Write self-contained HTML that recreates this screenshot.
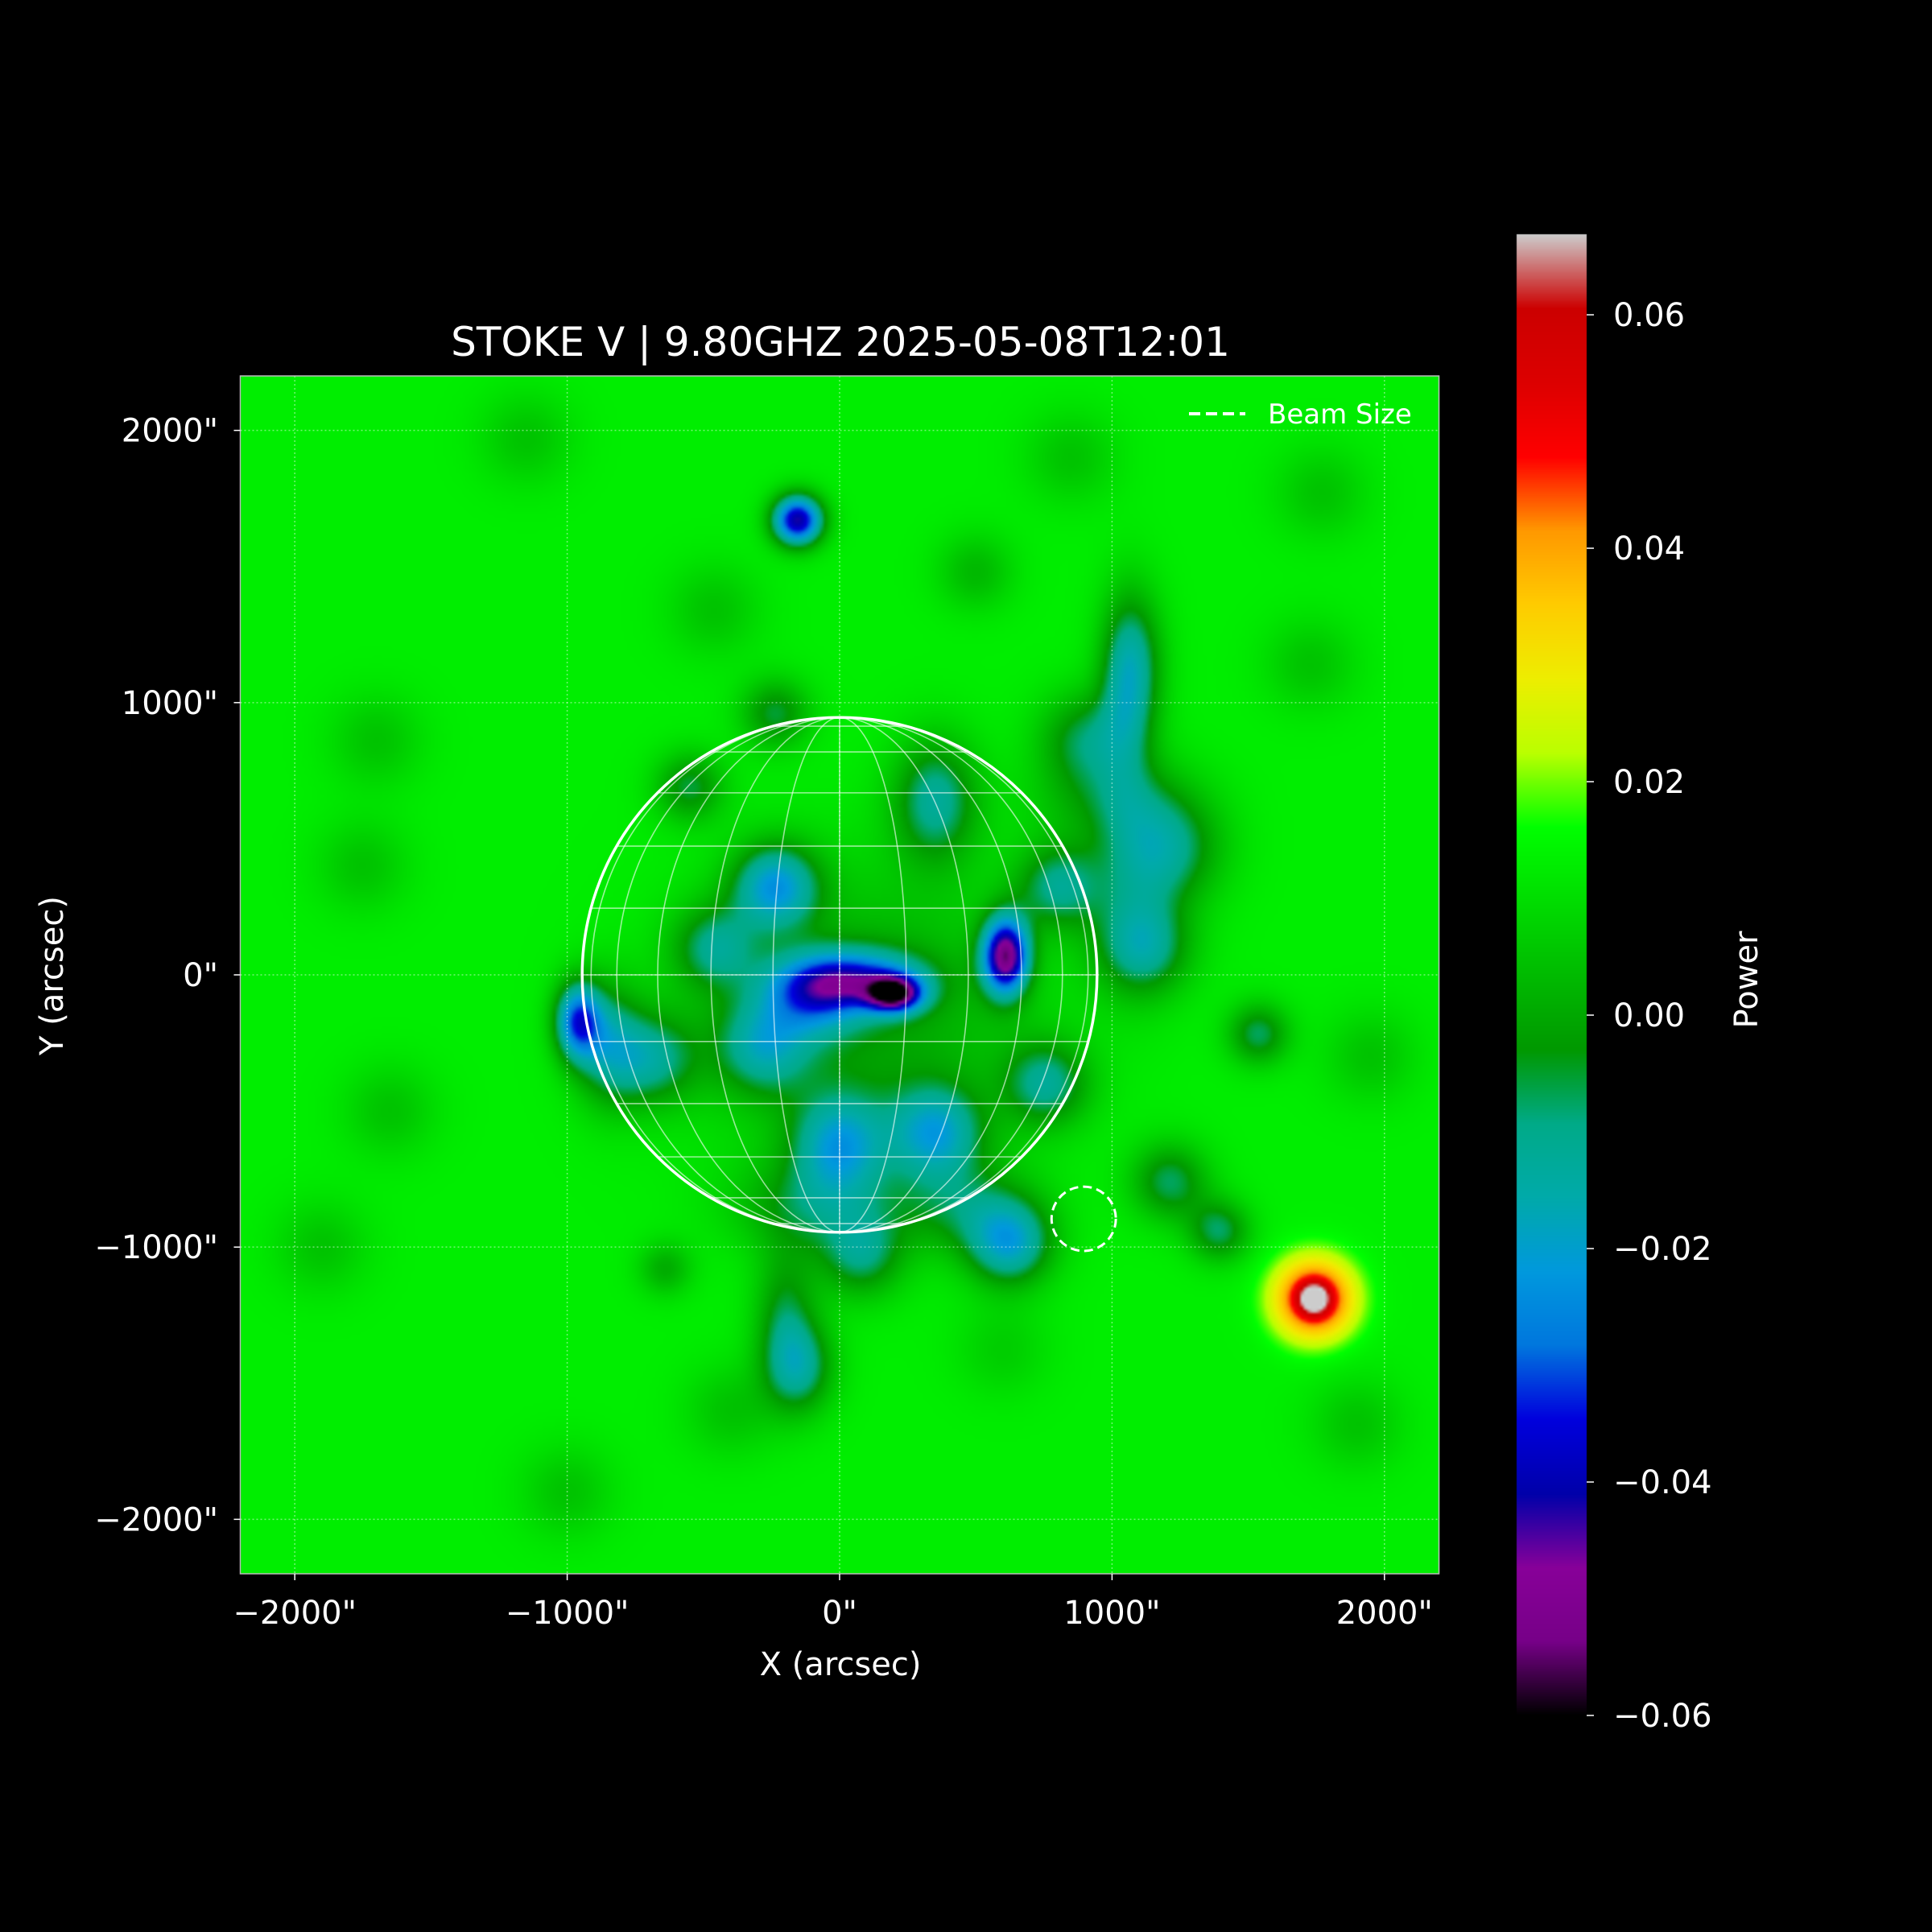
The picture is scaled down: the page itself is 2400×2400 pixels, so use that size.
<!DOCTYPE html>
<html><head><meta charset="utf-8">
<style>
html,body{margin:0;padding:0;background:#000;}
#wrap{position:relative;width:2400px;height:2400px;background:#000;overflow:hidden;font-family:"DejaVu Sans","Liberation Sans",sans-serif;}
canvas,svg{position:absolute;left:0;top:0;}
</style></head>
<body>
<div id="wrap">
<canvas id="heat" width="2400" height="2400"></canvas>
<svg id="ov" width="2400" height="2400"></svg>
</div>
<script>
// ---- data ----
const xTicks=[-2000,-1000,0,1000,2000];
const yTicks=[-2000,-1000,0,1000,2000];
const cbTicks=[0.06,0.04,0.02,0.00,-0.02,-0.04,-0.06];
const baseLevel=0.013;
const blobX=[200,60,-100,610,-960,-154,1742,1742,-235,353,1077,900,1213,1122,1538,0,353,624,-145,1213,1394,-688,-460,-280,-550,-235,760,805,80,-640,-1700,-1750,-1650,-1150,1770,1730,500,-460,-1000,1900,-1900,1950,850,-400,600,100,1000,1080,-850,-200,-100,450,1050];
const blobY=[-70,-20,-80,70,-170,1670,-1190,-1190,326,643,1140,870,460,100,-217,-624,-580,-986,-1440,-760,-940,-308,100,-262,690,960,-400,326,-1030,-1080,860,400,-500,1970,1770,1140,1480,1340,-1900,-1650,-1000,-300,1900,-1600,-1380,-150,650,300,-250,-1250,-850,-850,1000];
const blobAmp=[-0.052,-0.035,-0.025,-0.062,-0.04,-0.055,0.045,0.025,-0.032,-0.024,-0.02,-0.018,-0.02,-0.02,-0.02,-0.028,-0.028,-0.03,-0.022,-0.02,-0.02,-0.022,-0.02,-0.022,-0.018,-0.018,-0.022,-0.022,-0.02,-0.012,-0.008,-0.008,-0.008,-0.008,-0.008,-0.008,-0.01,-0.008,-0.008,-0.008,-0.008,-0.008,-0.008,-0.008,-0.006,-0.014,-0.012,-0.012,-0.02,-0.016,-0.015,-0.015,-0.012];
const blobSx=[70,170,130,60,60,65,100,40,110,110,80,120,140,120,80,120,120,110,90,100,80,120,110,120,90,90,110,110,110,70,120,120,120,120,120,120,100,120,120,120,120,120,120,120,120,420,200,120,90,80,200,180,70];
const blobSy=[45,75,100,100,100,65,100,40,110,160,190,120,140,120,80,130,120,110,120,100,80,120,110,120,90,90,110,110,110,70,120,120,120,120,120,120,100,120,120,120,120,120,120,120,120,380,120,250,160,180,120,120,250];
const sunRadius=945;
const beamX=896, beamY=-896, beamR=118;
const vmin=-0.06, vmax=0.0669;

// ---- layout ----
const L=298.5,W=1489,T=467,H=1488,xmin=-2200,xmax=2200,ymin=-2200,ymax=2200;
const sx=x=>L+(x-xmin)/(xmax-xmin)*W;
const sy=y=>T+(ymax-y)/(ymax-ymin)*H;
const CBL=1884,CBW=87,CBT=291,CBB=2131;
const cy=v=>CBB-(v-vmin)/(vmax-vmin)*(CBB-CBT);

const cmR=[0,0.4667,0.5333,0,0,0,0,0,0,0,0,0,0,0.7333,0.9333,1,1,1,0.8667,0.8,0.8];
const cmG=[0,0,0,0,0,0.4667,0.6,0.6667,0.6667,0.6,0.7333,0.8667,1,1,0.9333,0.8,0.6,0,0,0,0.8];
const cmB=[0,0.5333,0.6,0.6667,0.8667,0.8667,0.8667,0.6667,0.5333,0,0,0,0,0,0,0,0,0,0,0,0.8];
function cmap(f){f=Math.max(0,Math.min(1,f));const p=f*20,i=Math.min(19,Math.floor(p)),t=p-i;
 return [ (cmR[i]+(cmR[i+1]-cmR[i])*t)*255,(cmG[i]+(cmG[i+1]-cmG[i])*t)*255,(cmB[i]+(cmB[i+1]-cmB[i])*t)*255];}
function field(x,y){let v=baseLevel;for(let k=0;k<blobX.length;k++){const dx=(x-blobX[k])/blobSx[k],dy=(y-blobY[k])/blobSy[k];const r=dx*dx+dy*dy;if(r<30)v+=blobAmp[k]*Math.exp(-0.5*r);}return v;}

const cv=document.getElementById('heat'),ctx=cv.getContext('2d');
const N=372,off=document.createElement('canvas');off.width=N;off.height=N;
const octx=off.getContext('2d'),img=octx.createImageData(N,N);
for(let j=0;j<N;j++)for(let i=0;i<N;i++){const x=xmin+(i+0.5)/N*(xmax-xmin),y=ymax-(j+0.5)/N*(ymax-ymin);
 const c=cmap((field(x,y)-vmin)/(vmax-vmin));const o=(j*N+i)*4;img.data[o]=c[0];img.data[o+1]=c[1];img.data[o+2]=c[2];img.data[o+3]=255;}
octx.putImageData(img,0,0);
ctx.imageSmoothingEnabled=true;ctx.imageSmoothingQuality='high';
ctx.drawImage(off,L,T,W,H);
for(let py=CBT;py<CBB;py++){const v=vmin+(CBB-py)/(CBB-CBT)*(vmax-vmin);const c=cmap((v-vmin)/(vmax-vmin));
 ctx.fillStyle=`rgb(${c[0]|0},${c[1]|0},${c[2]|0})`;ctx.fillRect(CBL,py,CBW,1.5);}

const NS='http://www.w3.org/2000/svg',svg=document.getElementById('ov');
function mk(tag,attrs,parent){const e=document.createElementNS(NS,tag);for(const k in attrs)e.setAttribute(k,attrs[k]);(parent||svg).appendChild(e);return e;}
const clip=mk('clipPath',{id:'pc'});mk('rect',{x:L,y:T,width:W,height:H},clip);
const grid=mk('g',{'clip-path':'url(#pc)'});

xTicks.forEach(v=>{const l=mk('line',{x1:sx(v),x2:sx(v),y1:T,y2:T+H,stroke:'#fff','stroke-opacity':0.45,'stroke-width':1.5,'stroke-dasharray':'2,3'},grid);
 });
yTicks.forEach(v=>{const l=mk('line',{x1:L,x2:L+W,y1:sy(v),y2:sy(v),stroke:'#fff','stroke-opacity':0.45,'stroke-width':1.5,'stroke-dasharray':'2,3'},grid);
 });
const sg=mk('g',{});
const cx0=sx(0),cy0=sy(0),Rp=sx(sunRadius)-sx(0);
for(let lat=-75;lat<=75;lat+=15){const r=Math.sin(lat*Math.PI/180),w=Math.cos(lat*Math.PI/180);
 const l=mk('line',{x1:cx0-Rp*w,x2:cx0+Rp*w,y1:cy0-Rp*r,y2:cy0-Rp*r,stroke:'#fff','stroke-opacity':0.6,'stroke-width':1.6},sg);
 }
for(let lon=-75;lon<=75;lon+=15){const rx=Math.abs(Rp*Math.sin(lon*Math.PI/180));
 const d=`M${cx0} ${cy0-Rp} A${rx} ${Rp} 0 0 ${lon>0?1:0} ${cx0} ${cy0+Rp}`;
 const p=mk('path',{d:lon===0?`M${cx0} ${cy0-Rp} L${cx0} ${cy0+Rp}`:d,fill:'none',stroke:'#fff','stroke-opacity':0.6,'stroke-width':1.6},sg);
 }
const limb=mk('circle',{cx:cx0,cy:cy0,r:Rp,fill:'none',stroke:'#fff','stroke-width':3.5},sg);

const beam=mk('circle',{cx:sx(beamX),cy:sy(beamY),r:sx(beamR)-sx(0),fill:'none',stroke:'#fff','stroke-width':3,'stroke-dasharray':'11,6'});

const sp=mk('rect',{x:L,y:T,width:W,height:H,fill:'none',stroke:'#bbb','stroke-width':1.5});

const TS='font-size:40px;fill:#fff;';
xTicks.forEach(v=>{const t=mk('line',{x1:sx(v),x2:sx(v),y1:T+H,y2:T+H+8,stroke:'#fff','stroke-width':1.5});
 
 const tx=mk('text',{x:sx(v),y:2017,'text-anchor':'middle',style:TS});tx.textContent=(v<0?'\u2212'+(-v):v)+'"';
 });
yTicks.forEach(v=>{const t=mk('line',{x1:L-8,x2:L,y1:sy(v),y2:sy(v),stroke:'#fff','stroke-width':1.5});
 
 const tx=mk('text',{x:271,y:sy(v)+14,'text-anchor':'end',style:TS});tx.textContent=(v<0?'\u2212'+(-v):v)+'"';
 });
cbTicks.forEach(v=>{const t=mk('line',{x1:CBL+CBW,x2:CBL+CBW+9,y1:cy(v),y2:cy(v),stroke:'#fff','stroke-width':1.5});
 
 const tx=mk('text',{x:2004,y:cy(v)+14,style:TS});tx.textContent=(v<0?'\u2212':'')+Math.abs(v).toFixed(2);
 });
function label(txt,x,y,size,name,rot){const t=mk('text',{x:x,y:y,'text-anchor':'middle',style:`font-size:${size}px;fill:#fff;`});
 if(rot)t.setAttribute('transform',`rotate(-90 ${x} ${y})`);t.textContent=txt;}
label('STOKE V | 9.80GHZ 2025-05-08T12:01',1044,442,50,'chart-title');
label('X (arcsec)',1044,2081,40,'x-axis-title');
label('Y (arcsec)',78,1212,40,'y-axis-title',true);
label('Power',2183,1217,40,'colorbar-title',true);
const lg=mk('g',{});
mk('line',{x1:1477,x2:1547,y1:514,y2:514,stroke:'#fff','stroke-width':4,'stroke-dasharray':'14,7'},lg);
const lt=mk('text',{x:1575,y:526,style:'font-size:34px;fill:#fff;'},lg);lt.textContent='Beam Size';
</script>
</body></html>
